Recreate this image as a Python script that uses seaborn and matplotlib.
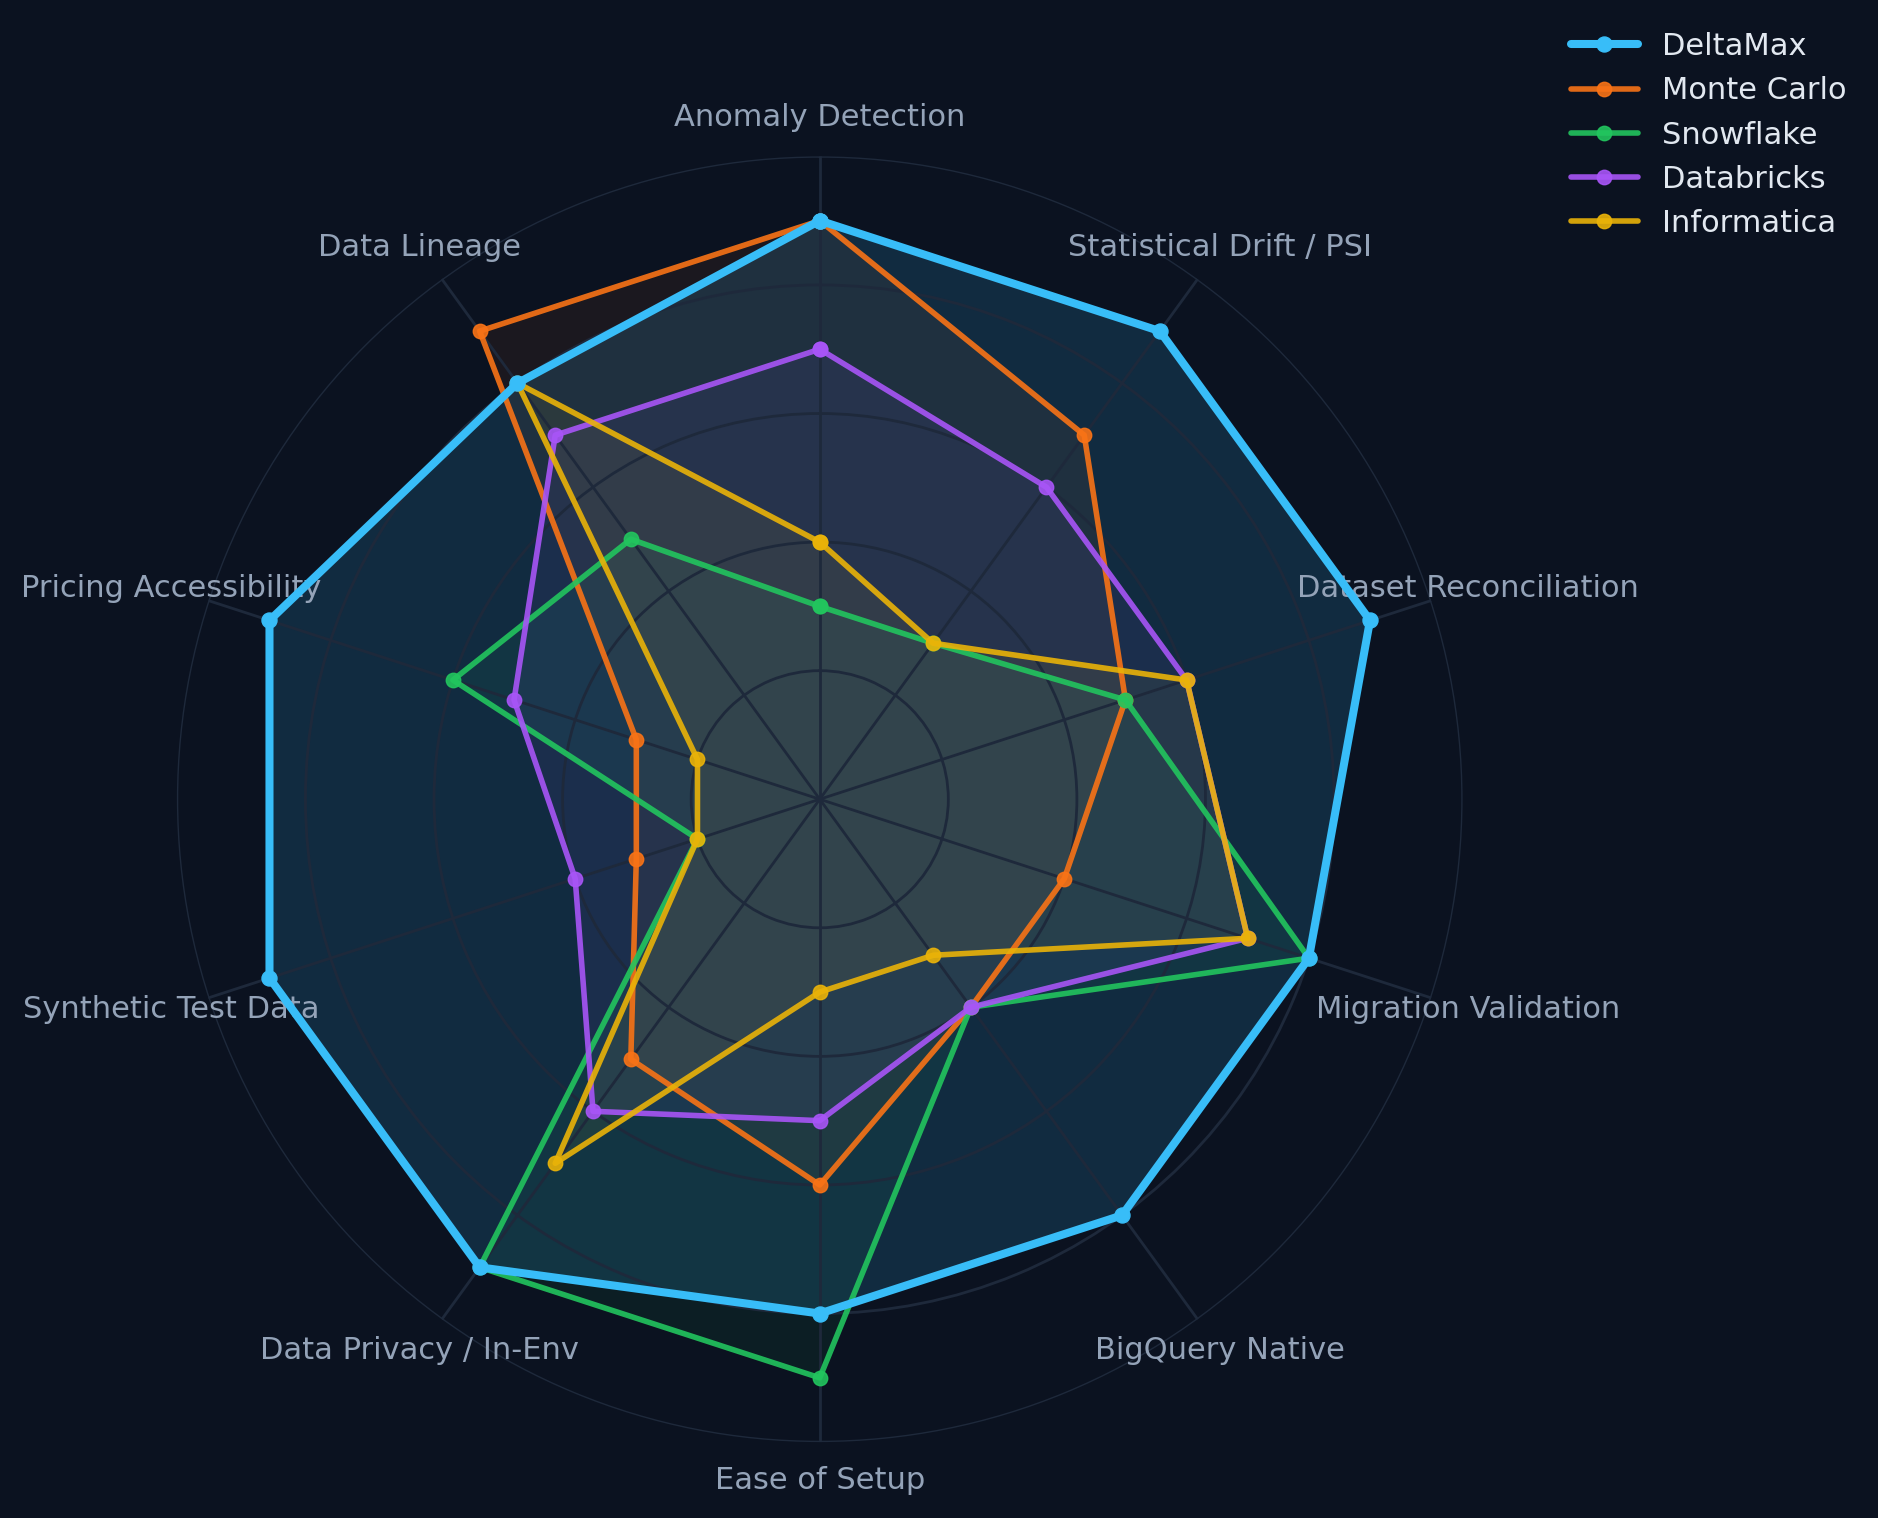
import numpy as np
import matplotlib
matplotlib.use("Agg")
import matplotlib.pyplot as plt
import seaborn as sns

# Data
categories = ["Anomaly Detection", "Statistical Drift / PSI", "Dataset Reconciliation",
              "Migration Validation", "BigQuery Native", "Ease of Setup",
              "Data Privacy / In-Env", "Synthetic Test Data", "Pricing Accessibility",
              "Data Lineage"]
deltamax = [9, 9, 9, 8, 8, 8, 9, 9, 9, 8]
monte_carlo = [9, 7, 5, 4, 4, 6, 5, 3, 3, 9]
snowflake = [3, 3, 5, 8, 4, 9, 9, 2, 6, 5]
databricks = [7, 6, 6, 7, 4, 5, 6, 4, 5, 7]
informatica = [4, 3, 6, 7, 3, 3, 7, 2, 2, 8]

series_names = ["DeltaMax", "Monte Carlo", "Snowflake", "Databricks", "Informatica"]
series_values = [deltamax, monte_carlo, snowflake, databricks, informatica]
colors = ["#38bdf8", "#f97316", "#22c55e", "#a855f7", "#eab308"]

bg = "#0b1220"
grid_c = "#1e293b"
label_c = "#94a3b8"
text_c = "#e2e8f0"

sns.set_theme(style="dark")
plt.rcParams["font.family"] = ["DejaVu Sans"]

fig = plt.figure(figsize=(9.39, 7.59), dpi=200, facecolor=bg)
ax = fig.add_axes([0.094, 0.050, 0.685, 0.847], projection="polar")
ax.set_facecolor(bg)
ax.set_theta_zero_location("N")
ax.set_theta_direction(-1)

n = len(categories)
angles = np.arange(n) * 2 * np.pi / n
closed = np.append(angles, 2 * np.pi)

# draw others first, DeltaMax on top
for i in [1, 2, 3, 4, 0]:
    name, vals, col = series_names[i], series_values[i], colors[i]
    v = np.append(vals, vals[0])
    hero = i == 0
    ax.fill(closed, v, color=col, alpha=0.15 if hero else 0.07, zorder=1, lw=0)
    sns.lineplot(x=closed, y=v, ax=ax, sort=False, estimator=None, color=col,
                 lw=2.9 if hero else 2.0, alpha=1.0 if hero else 0.9,
                 marker="o", markersize=5.4 if hero else 5.2,
                 markeredgecolor=col, markeredgewidth=0.5,
                 zorder=4 if hero else 3, label=name)

ax.set_ylim(0, 10)
ax.set_yticks([2, 4, 6, 8, 10])
ax.set_yticklabels([])
ax.set_xticks(angles)
ax.set_xticklabels([])
ax.set_xlabel("")
ax.set_ylabel("")
ax.set_axisbelow(False)
ax.grid(True, color=grid_c, lw=1.0)
ax.spines["polar"].set_visible(False)
ax.tick_params(length=0)

for ang, cat in zip(angles, categories):
    ax.text(ang, 10.6, cat, ha="center", va="center", color=label_c, fontsize=11)

handles, labels = ax.get_legend_handles_labels()
order = [labels.index(s) for s in series_names]
leg = ax.legend([handles[k] for k in order], [labels[k] for k in order],
                loc="upper right", bbox_to_anchor=(0.99, 0.987),
                bbox_transform=fig.transFigure, frameon=False, fontsize=11,
                labelcolor=text_c, handlelength=2.2, borderaxespad=0)

fig.savefig("out.png", dpi=200, facecolor=bg)
